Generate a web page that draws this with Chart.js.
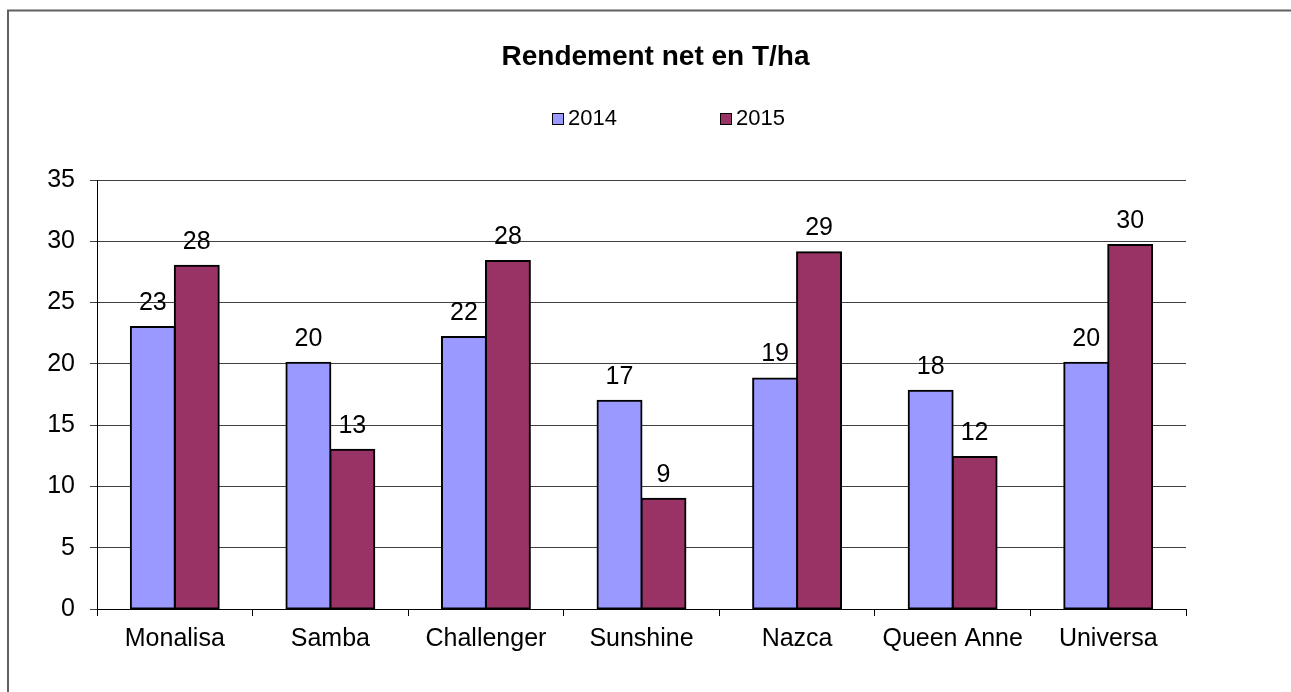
<!DOCTYPE html>
<html>
<head>
<meta charset="utf-8">
<title>Rendement net en T/ha</title>
<script src="https://cdn.jsdelivr.net/npm/chart.js@4.4.0/dist/chart.umd.min.js"></script>
<style>
	html, body { margin: 0; padding: 0; background: #fff; overflow: hidden; }
	#chart { display: block; }
</style>
</head>
<body>
<canvas id="chart" width="1291" height="692"></canvas>
<script>
const chartTitle = 'Rendement net en T/ha';
const categories = ['Monalisa', 'Samba', 'Challenger', 'Sunshine', 'Nazca', 'Queen Anne', 'Universa'];
const seriesNames = ['2014', '2015'];
const values2014 = [23.0, 20.1, 22.2, 17.0, 18.8, 17.8, 20.1];
const values2015 = [28.0, 13.0, 28.4, 9.0, 29.1, 12.4, 29.7];
const yTicks = [0, 5, 10, 15, 20, 25, 30, 35];
const colors = ['#9999FF', '#993366'];

const FONT = "'Liberation Sans', Arial, sans-serif";

// frame, title and legend drawn by hand (Excel-like placement)
const decorPlugin = {
	id: 'decor',
	beforeDraw(chart) {
		const ctx = chart.ctx;
		ctx.save();
		ctx.strokeStyle = '#606060';
		ctx.lineWidth = 2;
		ctx.beginPath();
		ctx.moveTo(8, chart.height + 5);
		ctx.lineTo(8, 10.5);
		ctx.lineTo(chart.width + 5, 10.5);
		ctx.stroke();
		ctx.restore();
	},
	afterDraw(chart) {
		const ctx = chart.ctx;
		ctx.save();
		ctx.fillStyle = '#000';
		ctx.textBaseline = 'middle';
		ctx.textAlign = 'center';
		ctx.font = 'bold 28px ' + FONT;
		ctx.fillText(chartTitle, 655.5, 57);

		ctx.font = '22px ' + FONT;
		ctx.textAlign = 'left';
		chart.data.datasets.forEach((ds, i) => {
			const x = 552 + i * 168;
			ctx.fillStyle = ds.backgroundColor;
			ctx.fillRect(x, 113, 11, 11);
			ctx.strokeStyle = '#000';
			ctx.lineWidth = 1;
			ctx.strokeRect(x + 0.5, 113.5, 11, 11);
			ctx.fillStyle = '#000';
			ctx.fillText(ds.label, x + 16, 118.5);
		});
		ctx.restore();
	}
};

// rounded value above each bar
const valueLabels = {
	id: 'valueLabels',
	afterDatasetsDraw(chart) {
		const ctx = chart.ctx;
		ctx.save();
		ctx.font = '25px ' + FONT;
		ctx.fillStyle = '#000';
		ctx.textAlign = 'center';
		ctx.textBaseline = 'middle';
		chart.data.datasets.forEach((ds, i) => {
			chart.getDatasetMeta(i).data.forEach((bar, j) => {
				ctx.fillText(Math.round(ds.data[j]), bar.x, bar.y - 24);
			});
		});
		ctx.restore();
	}
};

const ctx = document.getElementById('chart').getContext('2d');
new Chart(ctx, {
	type: 'bar',
	data: {
		labels: categories,
		datasets: [
			{
				label: seriesNames[0],
				data: values2014,
				backgroundColor: colors[0],
				borderColor: '#000',
				borderWidth: 2,
				borderSkipped: false,
				inflateAmount: 1,
				barPercentage: 1,
				categoryPercentage: 0.565,
			},
			{
				label: seriesNames[1],
				data: values2015,
				backgroundColor: colors[1],
				borderColor: '#000',
				borderWidth: 2,
				borderSkipped: false,
				inflateAmount: 1,
				barPercentage: 1,
				categoryPercentage: 0.565,
			},
		],
	},
	options: {
		responsive: false,
		devicePixelRatio: 1,
		animation: false,
		layout: {
			padding: { top: 180, left: 0, right: 105, bottom: 0 },
		},
		plugins: {
			legend: { display: false },
			title: { display: false },
			tooltip: { enabled: false },
		},
		scales: {
			x: {
				afterFit: (scale) => { scale.height = 83; },
				grid: {
					offset: true,
					drawOnChartArea: false,
					drawTicks: true,
					tickLength: 7,
					color: '#000',
				},
				border: { color: '#000', width: 1 },
				ticks: {
					color: '#000',
					padding: 8,
					maxRotation: 0,
					autoSkip: false,
					font: { family: FONT, size: 25 },
				},
			},
			y: {
				min: yTicks[0],
				max: yTicks[yTicks.length - 1],
				afterFit: (scale) => { scale.width = 97; },
				afterBuildTicks: (scale) => { scale.ticks = yTicks.map(v => ({ value: v })); },
				grid: {
					color: '#404040',
					tickLength: 7,
					drawTicks: true,
				},
				border: { color: '#000', width: 1 },
				ticks: {
					color: '#000',
					padding: 15,
					font: { family: FONT, size: 25 },
				},
			},
		},
	},
	plugins: [decorPlugin, valueLabels],
});
</script>
</body>
</html>
